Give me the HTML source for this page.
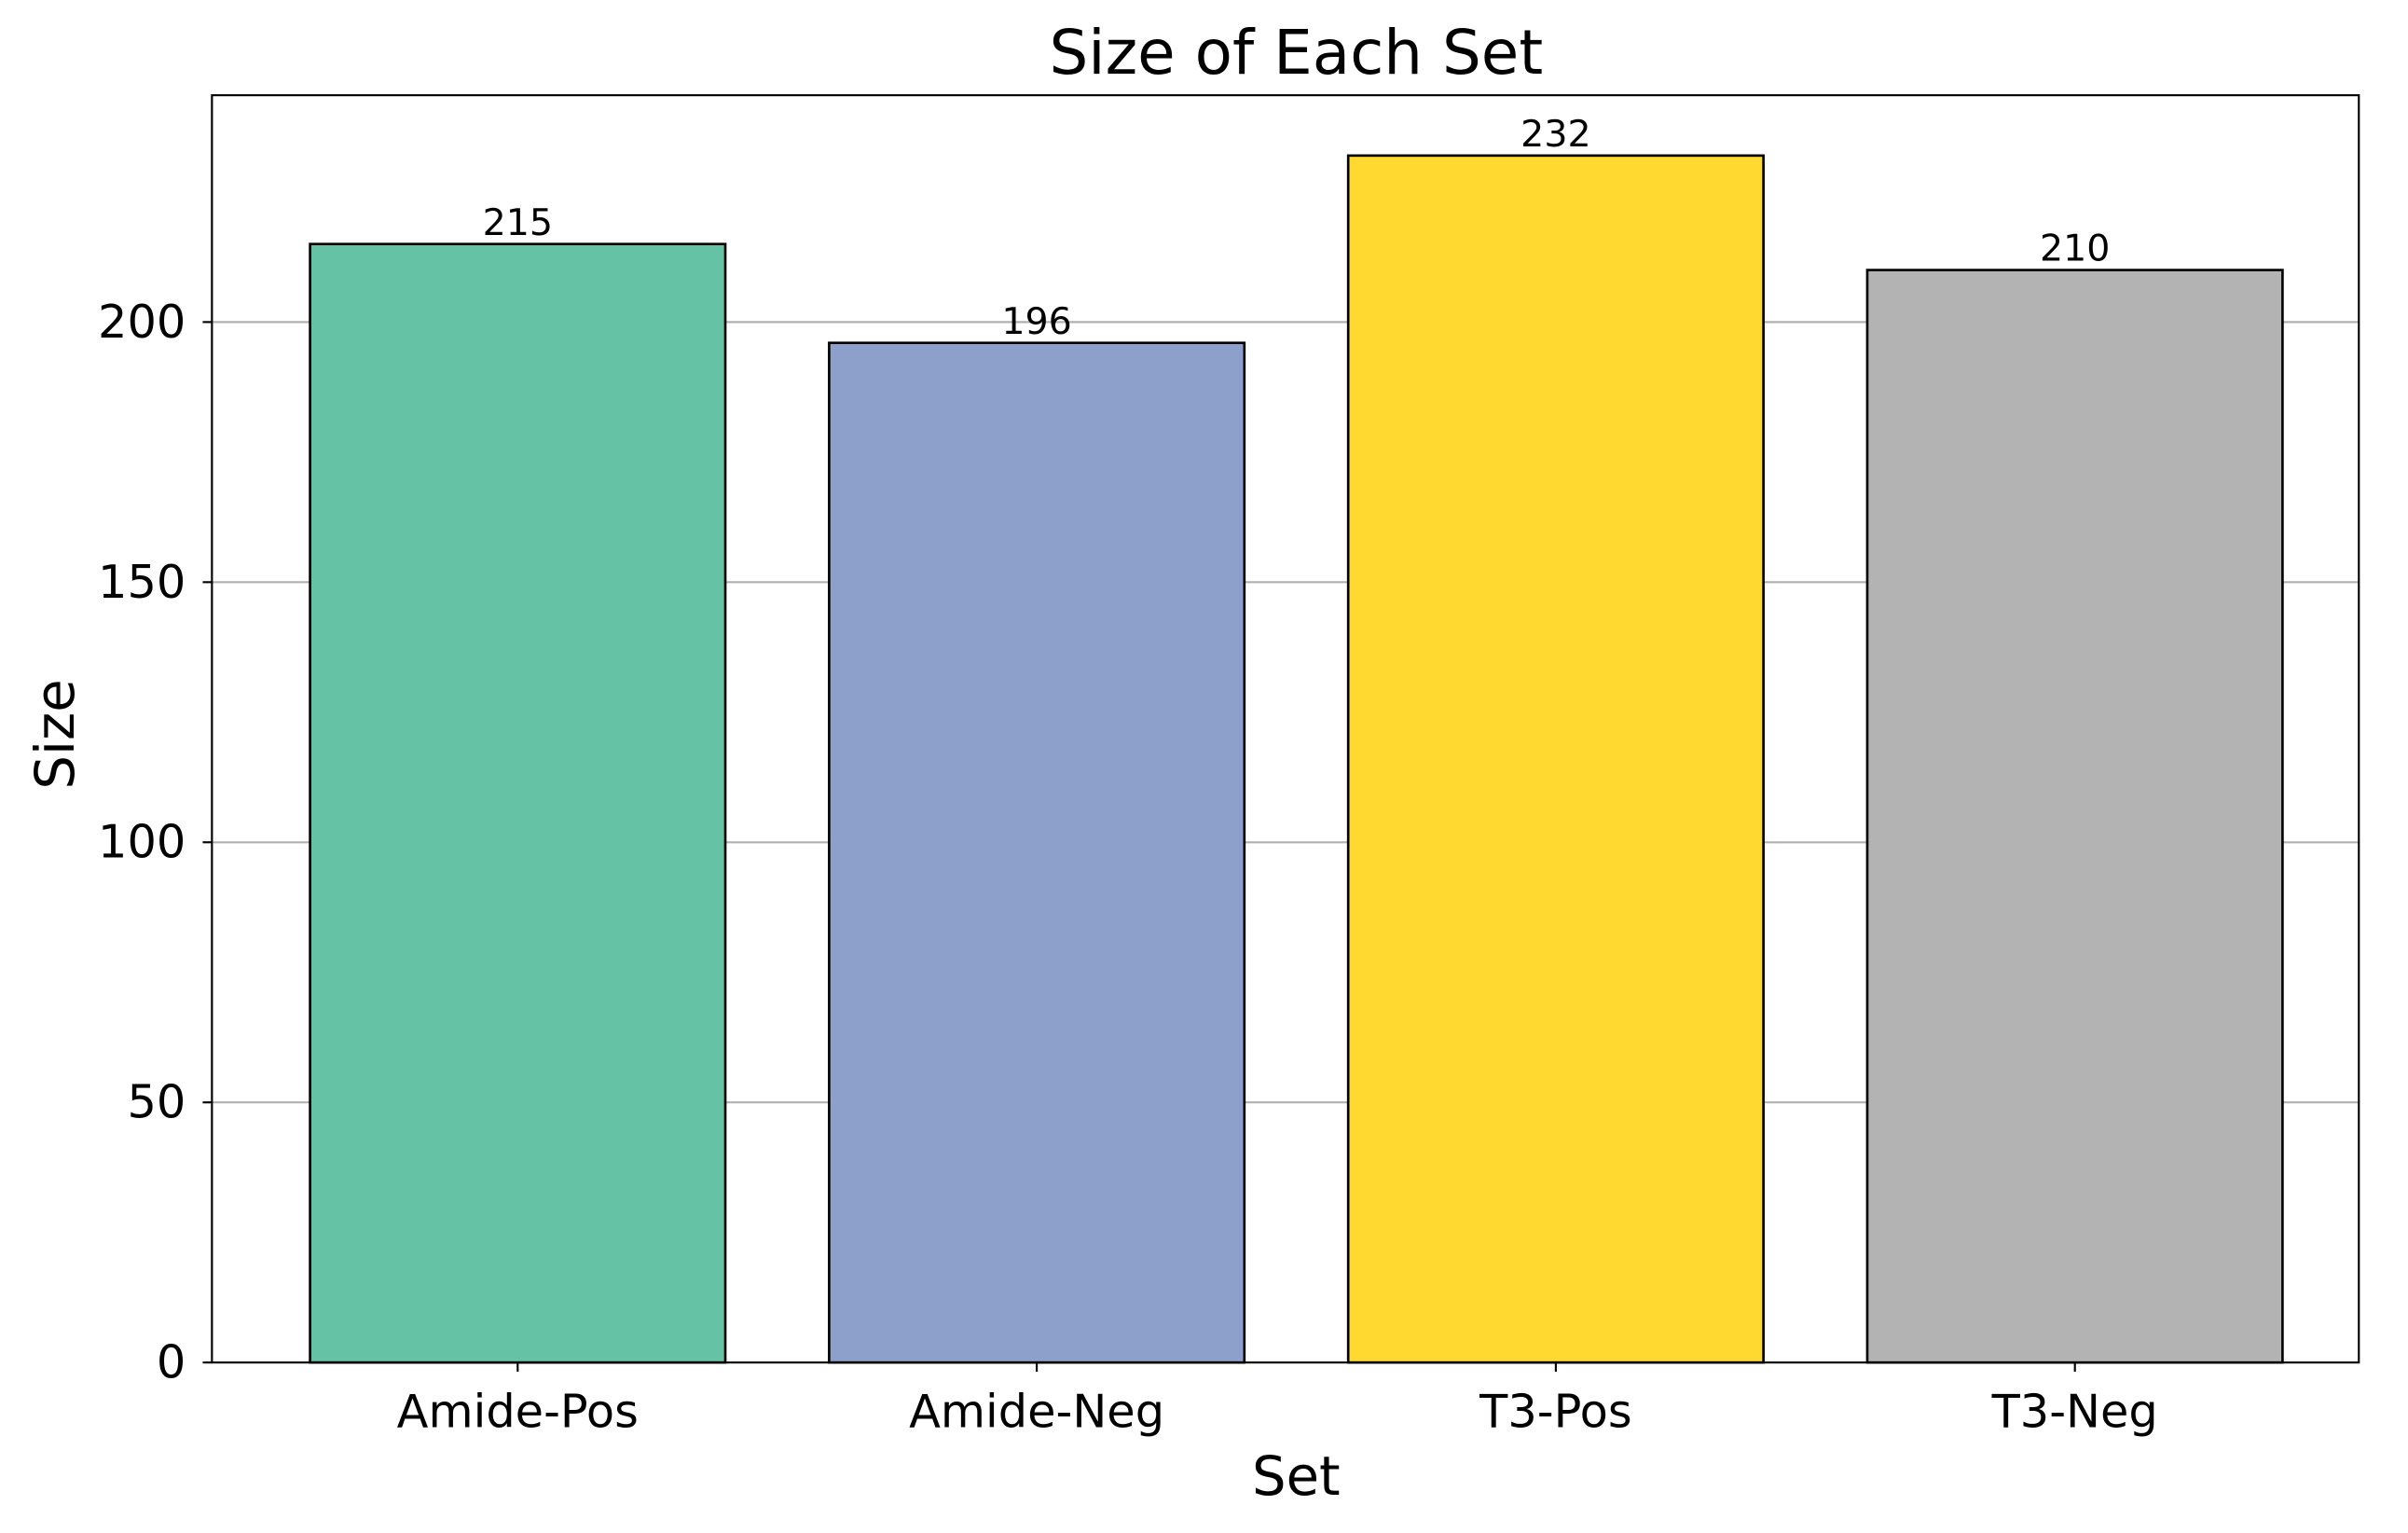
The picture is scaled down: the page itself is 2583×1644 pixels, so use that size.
<!DOCTYPE html>
<html><head><meta charset="utf-8"><style>
html,body{margin:0;padding:0;background:#fff;}
svg{display:block;font-family:"DejaVu Sans","Liberation Sans",sans-serif;}
</style></head><body>
<svg id="chart" width="2583" height="1644" viewBox="0 0 1568 998" xmlns="http://www.w3.org/2000/svg">
<rect width="1568" height="998" fill="#fff"/>
<g id="grid"></g>
<g id="bars"></g>
<g id="axes"></g>
<text x="844" y="48" font-size="40" text-anchor="middle">Size of Each Set</text>
<text x="844" y="973" font-size="35" text-anchor="middle">Set</text>
<text transform="translate(48,478) rotate(-90)" font-size="35" text-anchor="middle">Size</text>
</svg>
<script>
const categories = ["Amide-Pos","Amide-Neg","T3-Pos","T3-Neg"];
const values = [215,196,232,210];
const colors = ["#66c2a5","#8da0cb","#ffd92f","#b3b3b3"];
const yTicks = [0,50,100,150,200];

const L=138,R=1536,T=62,B=887;
const ymax = Math.max(...values)*1.05;
const xmin=-0.589, xmax=categories.length-1+0.547;
const sx=v=>L+(v-xmin)/(xmax-xmin)*(R-L);
const sy=v=>B-v/ymax*(B-T);
const NS="http://www.w3.org/2000/svg";
function mk(tag,attrs,parent,txt){const e=document.createElementNS(NS,tag);for(const k in attrs)e.setAttribute(k,attrs[k]);if(txt!==undefined)e.textContent=txt;parent.appendChild(e);return e;}
const grid=document.getElementById('grid'),bars=document.getElementById('bars'),axes=document.getElementById('axes');
yTicks.forEach(t=>{
  const y=sy(t);
  if(t>0){const g=mk('line',{x1:L,x2:R,y1:y,y2:y,stroke:'#b0b0b0','stroke-width':1.3},grid);
  
  }
  mk('line',{x1:L-6,x2:L,y1:y,y2:y,stroke:'#000','stroke-width':1.3},axes);
  const lb=mk('text',{x:L-17,y:y+10,'font-size':30,'text-anchor':'end'},axes,String(t));
  
  
});
const bw=0.8;
categories.forEach((c,i)=>{
  const x0=sx(i-bw/2),x1=sx(i+bw/2),y=sy(values[i]);
  const r=mk('rect',{x:x0,y:y,width:x1-x0,height:B-y,fill:colors[i],stroke:'#000','stroke-width':1.6},bars);
  
  
  const v=mk('text',{x:sx(i),y:y-6,'font-size':24,'text-anchor':'middle'},bars,String(values[i]));
  
  
  mk('line',{x1:sx(i),x2:sx(i),y1:B,y2:B+6,stroke:'#000','stroke-width':1.3},axes);
  const t=mk('text',{x:sx(i),y:B+42,'font-size':30,'text-anchor':'middle'},axes,c);
  
  
});
const f=mk('rect',{x:L,y:T,width:R-L,height:B-T,fill:'none',stroke:'#000','stroke-width':1.3},axes);


</script>
</body></html>
